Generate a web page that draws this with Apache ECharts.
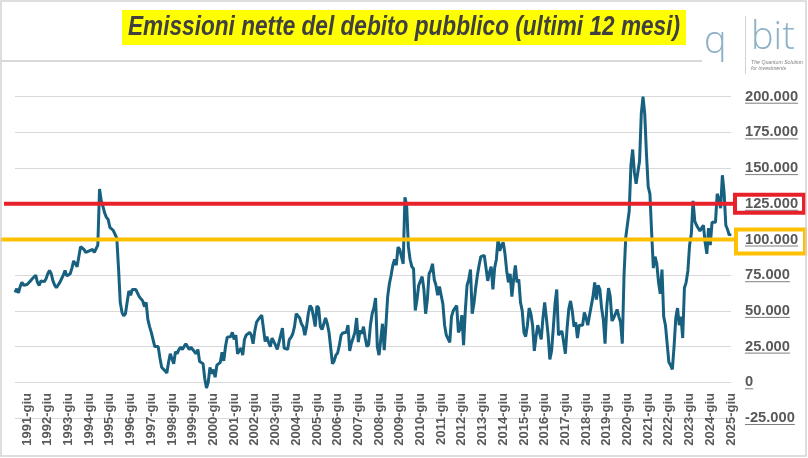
<!DOCTYPE html>
<html><head><meta charset="utf-8">
<script src="https://cdn.jsdelivr.net/npm/echarts@6/dist/echarts.min.js"></script>
<style>html,body{margin:0;padding:0;background:#fff}#c{width:808px;height:458px}</style>
</head><body><div id="c"></div>
<script>
// ---- data ----
const startYear = 1990;
const startMonthIndex = 10; // novembre
const monthNames = ['gen','feb','mar','apr','mag','giu','lug','ago','set','ott','nov','dic'];
// Emissioni nette del debito pubblico, ultimi 12 mesi
const values = [
  63000, 65500,
  62600, 67000, 70000, 68000, 67500, 68500, 68600, 71000, 72500, 73500, 75000, 70000,
  67800, 71000, 70000, 70500, 72500, 76000, 78300, 76000, 71000, 68000, 66200, 67000,
  70000, 72500, 75000, 78300, 74500, 74000, 76000, 80000, 85000, 83000, 81000, 88000,
  95000, 96000, 93000, 91000, 92000, 92000, 91000, 93000, 91000, 92000, 96000, 135400,
  127000, 123000, 118500, 115500, 114000, 108500, 109000, 106300, 106000, 101000, 80000, 56000,
  49000, 46500, 48000, 56000, 64000, 61000, 65000, 66000, 65000, 64000, 60000, 59000,
  57000, 53000, 56000, 44000, 39000, 35000, 35000, 25000, 26000, 25000, 17000, 10500,
  10000, 8000, 6500, 14000, 20000, 21000, 13000, 21500, 20000, 23000, 24500, 23000,
  25000, 27000, 25000, 23000, 24500, 23000, 22000, 20000, 23000, 14500, 14000, 13000,
  2500, -4000, 0, 10500, 6000, 9000, 3500, 12000, 11000, 14000, 21000, 15000,
  25000, 31500, 32000, 32000, 35000, 30000, 33000, 20000, 19000, 24000, 19000, 30000,
  33000, 34000, 35000, 33000, 27000, 36000, 42000, 44000, 45000, 47000, 47500, 28500,
  32000, 28000, 25000, 31000, 32000, 26000, 23000, 28000, 27000, 38000, 24000, 25000,
  23000, 30000, 31500, 34000, 39000, 48000, 47000, 45000, 41000, 39000, 33000, 39000,
  48000, 53800, 52000, 46000, 39000, 53500, 52000, 39000, 37000, 41000, 45000, 41000,
  35000, 24000, 13000, 15000, 19000, 20500, 26000, 33000, 34500, 35000, 35000, 40000,
  22000, 27500, 31000, 35000, 45000, 28200, 36400, 34000, 39000, 31000, 25000, 26500,
  39900, 48000, 52000, 59000, 25000, 19000, 30000, 41000, 22500, 40000, 60000, 69000,
  75000, 82000, 86000, 82000, 94600, 93000, 93000, 83000, 129600, 124000, 95000, 86000,
  81000, 79500, 50300, 58000, 68000, 71000, 74000, 65000, 48000, 58000, 76000, 78300,
  83000, 72000, 68000, 61000, 67000, 61000, 55000, 40000, 33000, 32000, 28000, 46000,
  50000, 52000, 53800, 35000, 37500, 47000, 26000, 50000, 67800, 72000, 79000, 48000,
  55000, 66000, 75000, 82000, 88000, 88000, 88800, 80000, 71000, 77000, 81000, 65000,
  80000, 86000, 100500, 92000, 96000, 98000, 90000, 78000, 70000, 76000, 60000, 72000,
  81800, 70000, 72000, 56000, 50000, 35000, 32000, 40000, 52000, 48000, 40000, 22000,
  32000, 40000, 39000, 30000, 45000, 56000, 45000, 33000, 16000, 22000, 38000, 55000,
  65000, 33000, 34000, 36000, 35000, 20000, 38000, 51500, 57000, 50000, 39000, 42000,
  31000, 40000, 41000, 40000, 49000, 45000, 40000, 47000, 48000, 60000, 70000, 58000,
  68000, 65000, 52000, 44000, 27000, 53000, 66000, 60000, 43000, 45000, 45000, 51000,
  46000, 42000, 27000, 75000, 101600, 103000, 120000, 152000, 163000, 147000, 139000, 147000,
  155000, 188000, 200000, 188000, 160000, 137000, 132000, 105000, 80000, 88000, 83000, 70000,
  62000, 79000, 46000, 40000, 40000, 14000, 12000, 9000, 25000, 45000, 52000, 40000,
  46000, 31000, 66000, 70000, 78000, 96000, 104000, 127000, 113000, 110000, 111000, 106000,
  108000, 110000, 98000, 90000, 108000, 96000, 112000, 113000, 112000, 132000, 128000, 122000,
  145000, 133000, 110000, 107000, 103000, 104000
];
const categories = values.map((_, i) => {
  const m = startMonthIndex + i;
  return (startYear + Math.floor(m / 12)) + '-' + monthNames[m % 12];
});
const yMin = -25000, yMax = 225000, yStep = 25000;
const redLevel = 125000, yellowLevel = 100000;
const titleText = 'Emissioni nette del debito pubblico (ultimi 12 mesi)';

// ---- helpers ----
function fmtIt(v) {
  const s = String(Math.abs(v)).replace(/\B(?=(\d{3})+(?!\d))/g, '.');
  return (v < 0 ? '-' : '') + s;
}
const ul = document.createElement('canvas');
ul.width = 4; ul.height = 16;
(function(){ const g = ul.getContext('2d'); g.fillStyle = '#7f7f7f'; g.fillRect(0, 14, 4, 1); })();

const titleFamily = '"Liberation Sans", Arial, sans-serif';
const titleSize = 27;
function titleScale() {
  const g = document.createElement('canvas').getContext('2d');
  g.font = 'italic bold ' + titleSize + 'px ' + titleFamily;
  return 552 / g.measureText(titleText).width;
}

const chart = echarts.init(document.getElementById('c'), null, {renderer: 'canvas'});
chart.setOption({
  animation: false,
  backgroundColor: '#ffffff',
  grid: {left: 15, right: 77, top: 61, bottom: 40, containLabel: false, outerBoundsMode: 'none'},
  xAxis: {
    type: 'category',
    data: categories,
    boundaryGap: false,
    axisLine: {show: false, onZero: false},
    axisTick: {show: false},
    axisLabel: {
      interval: (i, v) => v.endsWith('-giu'),
      rotate: 90,
      margin: -25,
      fontSize: 13,
      fontWeight: 'bold',
      color: '#595959',
      fontFamily: '"Liberation Sans", Arial, sans-serif'
    },
    splitLine: {show: false}
  },
  yAxis: {
    type: 'value',
    position: 'right',
    min: yMin, max: yMax, interval: yStep,
    axisLine: {show: false},
    axisTick: {show: false},
    splitLine: {show: true, showMaxLine: false, lineStyle: {color: '#d9d9d9', width: 1}},
    axisLabel: {
      margin: 14,
      formatter: v => v >= yMax ? '' : '{u|' + fmtIt(v) + '}',
      rich: {
        u: {
          fontSize: 14.7, fontWeight: 'bold', color: '#595959',
          fontFamily: '"Liberation Sans", Arial, sans-serif',
          lineHeight: 16, height: 16,
          backgroundColor: {image: ul}
        }
      }
    }
  },
  series: [{
    type: 'line',
    data: values,
    showSymbol: false,
    symbol: 'none',
    lineStyle: {color: '#17607f', width: 3},
    itemStyle: {color: '#17607f'},
    z: 2
  }]
});

const yR = chart.convertToPixel({yAxisIndex: 0}, redLevel);
const yY = chart.convertToPixel({yAxisIndex: 0}, yellowLevel);
const ts = titleScale();

chart.setOption({
  graphic: [
    {type: 'rect', shape: {x: 1, y: 1, width: 805, height: 455}, style: {fill: 'none', stroke: '#d4d4d4', lineWidth: 1.5}, z: 100},
    {type: 'line', shape: {x1: 0, y1: 61, x2: 702, y2: 61}, style: {stroke: '#d9d9d9', lineWidth: 2}, z: 100},
    {type: 'rect', shape: {x: 122, y: 10, width: 564, height: 35}, style: {fill: '#ffff00'}, z: 100},
    {type: 'text', x: 404, y: 27.5, scaleX: ts, z: 101, style: {text: titleText, fill: '#404040', font: 'italic bold ' + titleSize + 'px ' + titleFamily, align: 'center', verticalAlign: 'middle'}},
    {type: 'text', x: 704, y: 42, z: 101, style: {text: 'q', fill: '#8db1c8', font: '300 38px "Open Sans", "DejaVu Sans", sans-serif', align: 'left', verticalAlign: 'middle'}},
    {type: 'line', shape: {x1: 745.5, y1: 16, x2: 745.5, y2: 74}, style: {stroke: '#c8d6e0', lineWidth: 1}, z: 101},
    {type: 'text', x: 751, y: 38, z: 101, style: {text: 'bit', fill: '#8db1c8', font: '300 38px "Open Sans", "DejaVu Sans", sans-serif', align: 'left', verticalAlign: 'middle'}},
    {type: 'text', x: 751, y: 59, z: 101, style: {text: 'The Quantum Solution\nfor investments', fill: '#7f7f7f', font: 'italic 5.2px "Liberation Sans", Arial, sans-serif', lineHeight: 6.5, align: 'left', verticalAlign: 'top'}},
    {type: 'line', shape: {x1: 4, y1: yR, x2: 733, y2: yR}, style: {stroke: '#e8202a', lineWidth: 4}, z: 50},
    {type: 'rect', shape: {x: 735, y: yR - 9, width: 69, height: 18}, style: {fill: 'none', stroke: '#e8202a', lineWidth: 4}, z: 50},
    {type: 'line', shape: {x1: 0, y1: yY, x2: 734, y2: yY}, style: {stroke: '#ffc000', lineWidth: 4}, z: 50},
    {type: 'rect', shape: {x: 736, y: yY - 10, width: 69, height: 24}, style: {fill: 'none', stroke: '#ffc000', lineWidth: 4}, z: 50}
  ]
});
</script>
</body></html>
